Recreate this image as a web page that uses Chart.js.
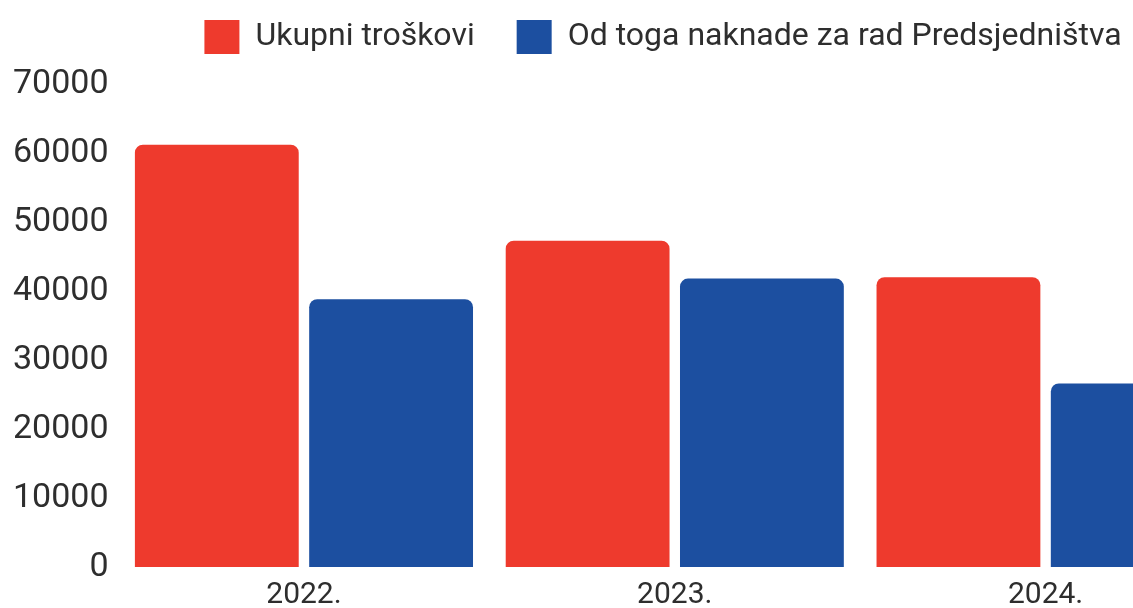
<!DOCTYPE html>
<html>
<head>
<meta charset="utf-8">
<script src="https://cdn.jsdelivr.net/npm/chart.js@4/dist/chart.umd.min.js"></script>
<style>
  html, body { margin: 0; padding: 0; background: #fff; overflow: hidden; }
  #wrap { width: 1335px; height: 623px; }
</style>
</head>
<body>
<div id="wrap"><canvas id="costChart" width="1335" height="623"></canvas></div>
<script>
// podaci sa grafa (procjena iz slike)
const years = ['2022.', '2023.', '2024.'];
const totalCosts = [61200, 47300, 42000];
const presidencyFees = [38800, 41800, 26600];
const yTicks = [0, 10000, 20000, 30000, 40000, 50000, 60000, 70000];

const red = '#ee3a2d';
const blue = '#1c4fa0';
const textColor = '#2e2e2e';

Chart.defaults.font.family = 'Roboto, sans-serif';
Chart.defaults.color = textColor;

// legenda: fiksna visina i pomak (graf je odrezan desno pa centar nije isti)
const legendPlacement = {
    id: 'legendPlacement',
    beforeInit(chart) {
        const fit = chart.legend.fit;
        chart.legend.fit = function () {
            fit.call(this);
            this.height = 84;
        };
    },
    afterLayout(chart) {
        chart.legend.top = -22;
        chart.legend.left = 95;
    }
};

let ctx = document.getElementById('costChart').getContext('2d');

new Chart(ctx, {
    type: 'bar',
    data: {
        labels: years,
        datasets: [{
            label: 'Ukupni troškovi',
            data: totalCosts,
            backgroundColor: red,
            borderRadius: 8,
            borderSkipped: 'start'
        }, {
            label: 'Od toga naknade za rad Predsjedništva',
            data: presidencyFees,
            backgroundColor: blue,
            borderRadius: 8,
            borderSkipped: 'start'
        }]
    },
    options: {
        responsive: false,
        animation: false,
        devicePixelRatio: 1,
        categoryPercentage: 0.94,
        barPercentage: 0.94,
        layout: {
            padding: { left: 3, right: 104, top: 0, bottom: 0 }
        },
        plugins: {
            tooltip: { enabled: false },
            legend: {
                position: 'top',
                labels: {
                    boxWidth: 35,
                    boxHeight: 34,
                    padding: 42,
                    font: { size: 32 },
                    color: textColor
                }
            }
        },
        scales: {
            x: {
                grid: { display: false, drawTicks: false },
                border: { display: false },
                ticks: { font: { size: 30 }, padding: 10, color: textColor }
            },
            y: {
                min: 0,
                max: 70000,
                afterBuildTicks: axis => { axis.ticks = yTicks.map(v => ({ value: v })); },
                grid: { display: false, drawTicks: false },
                border: { display: false },
                ticks: {
                    font: { size: 34 },
                    padding: 10,
                    color: textColor,
                    callback: v => String(v)
                }
            }
        }
    },
    plugins: [legendPlacement]
});
</script>
</body>
</html>
